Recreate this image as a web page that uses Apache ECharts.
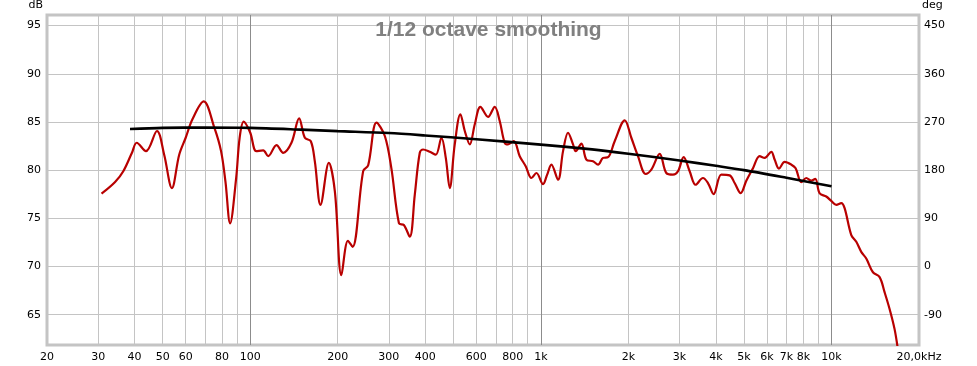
<!DOCTYPE html>
<html>
<head>
<meta charset="utf-8">
<script src="https://cdn.jsdelivr.net/npm/echarts@6/dist/echarts.min.js"></script>
<style>
html,body{margin:0;padding:0;background:#fff;}
#chart{width:977px;height:366px;}
</style>
</head>
<body>
<div id="chart"></div>
<script>
// ---- data ----
const titleText = '1/12 octave smoothing';

// measured response (red)
const redFreq = [30.8,34.3,36.6,39.2,40.7,43.8,47.8,50.6,53.8,57,60,63.3,69.2,75.3,79.4,82.2,85.3,89.5,92,95,
  100,105,110.9,115.3,123.2,129.9,138.7,147.4,154.2,161.7,166.9,174.6,186.5,195.6,206,217,225,244.8,254.7,272,290.6,306,325,337.8,354,
  368.4,383.3,393.5,414.8,435,455,471,486,505.6,528.8,547.5,569.6,592.6,619.6,658.4,694,722,751,771,806.8,846,887,928,965.6,1017.5,1050.6,1087,1146,1192.5,1240.6,1290.6,
  1318,1379,1434,1512,1573,1637,1703,1795,1944,2048,2159,2295,2400,2564,2702,2849,2964,3100,3251,3409,3612,3758,3931,4178,4462,
  4643,4870,5092,5369,5659,5889,6208,6373,6595,6901,7273,7527,7873,8191,8521,8795,9102,9594,9982,10385,10805,11094,11697,12170,12657,13170,13886,14640,15227,15843,16482,16900];
const redDb = [77.55,78.76,79.88,81.8,82.84,81.97,84.06,81.6,78.14,81.6,83.36,85.28,87.13,84.4,81.97,78.83,74.48,79.18,83.36,85.03,
  83.9,81.97,82.04,81.45,82.6,81.8,82.84,85.38,83.36,83.0,80.9,76.4,80.75,77.8,69.1,72.67,72.04,79.9,80.5,84.93,83.54,80.2,74.48,74.3,73.1,
  77.44,81.8,82.14,81.9,81.6,83.36,81.27,78.14,82.67,85.8,84.06,82.67,84.76,86.57,85.52,86.57,85.1,82.84,82.67,83.0,81.45,80.4,79.18,79.7,78.55,79.5,80.57,79.0,81.97,83.88,82.67,
  81.97,82.74,81.1,80.92,80.57,81.27,81.34,83.0,85.17,83.36,81.45,79.6,80.05,81.69,79.7,79.53,79.88,81.34,79.88,78.48,79.18,78.66,77.51,79.53,79.46,
  78.66,77.61,78.9,80.2,81.45,81.27,81.9,81.1,80.16,80.85,80.57,80.2,78.76,79.18,78.9,79.1,77.6,77.26,76.8,76.4,76.57,76.05,73.26,72.56,71.52,70.82,69.4,68.9,67.33,65.59,63.5,61.5];

// smoothed target (black)
const blackFreq = [38.6,50,70,100,150,200,300,400,600,1000,1500,2000,3000,4000,5000,7000,10000];
const blackDb = [84.27,84.38,84.42,84.38,84.2,84.05,83.85,83.6,83.2,82.65,82.15,81.7,81.0,80.45,80.0,79.2,78.32];

// axes
const freqMin = 20, freqMax = 20000;
const freqGrid = [30,40,50,60,70,80,90,200,300,400,500,600,700,800,900,2000,3000,4000,5000,6000,7000,8000,9000,20000];
const freqDecades = [100,1000,10000];
const freqLabels = [20,30,40,50,60,80,100,200,300,400,600,800,1000,2000,3000,4000,5000,6000,7000,8000,10000,20000];
const dbMin = 61.85, dbMax = 96.1;
const dbTicks = [65,70,75,80,85,90,95];
const degMin = -146.7, degMax = 469.8;
const degTicks = [-90,0,90,180,270,360,450];

// ---- chart ----
const pair = (xs, ys) => xs.map((x, i) => [x, ys[i]]);
const labelFont = {color:'#000', fontFamily:'DejaVu Sans', fontSize:11};

const chart = echarts.init(document.getElementById('chart'), null, {renderer:'canvas'});
chart.setOption({
  animation:false,
  backgroundColor:'#fff',
  title:{text:titleText, left:'center', top:15,
    textStyle:{color:'#808080', fontFamily:'Liberation Sans', fontWeight:'bold', fontSize:21}},
  grid:{left:47, right:58, top:15, bottom:21, show:true, borderColor:'#c4c4c4', borderWidth:3, backgroundColor:'transparent'},
  xAxis:[{
    type:'log', logBase:10, min:freqMin, max:freqMax, position:'bottom',
    axisLine:{show:false},
    axisTick:{show:false, customValues:freqGrid},
    splitLine:{show:true, lineStyle:{color:'#c4c4c4', width:1}},
    axisLabel:{customValues:freqLabels, margin:7, ...labelFont,
      formatter:v => v === 20000 ? '20,0kHz' : (v >= 1000 ? (v/1000)+'k' : String(v))}
  },{
    type:'log', logBase:10, min:freqMin, max:freqMax, position:'top',
    axisLine:{show:false},
    axisTick:{show:false, customValues:freqDecades},
    axisLabel:{show:false},
    splitLine:{show:true, lineStyle:{color:'#8c8c8c', width:1}}
  }],
  yAxis:[{
    type:'value', min:dbMin, max:dbMax, position:'left',
    name:'dB', nameLocation:'end', nameGap:4,
    nameTextStyle:{...labelFont, align:'right', verticalAlign:'bottom', padding:[0,4,0,0]},
    axisLine:{show:false},
    axisTick:{show:false, customValues:dbTicks},
    splitLine:{show:true, lineStyle:{color:'#c4c4c4', width:1}},
    axisLabel:{customValues:dbTicks, margin:6, ...labelFont}
  },{
    type:'value', min:degMin, max:degMax, position:'right',
    name:'deg', nameLocation:'end', nameGap:4,
    nameTextStyle:{...labelFont, align:'left', verticalAlign:'bottom', padding:[0,0,0,3]},
    axisLine:{show:false},
    axisTick:{show:false, customValues:degTicks},
    splitLine:{show:false},
    axisLabel:{customValues:degTicks, margin:5, ...labelFont}
  }],
  series:[{
    type:'line', xAxisIndex:0, yAxisIndex:0, data:pair(redFreq, redDb),
    showSymbol:false, smooth:0.35, clip:true,
    lineStyle:{color:'#b80000', width:2.2}, z:3
  },{
    type:'line', xAxisIndex:0, yAxisIndex:0, data:pair(blackFreq, blackDb),
    showSymbol:false, smooth:0.3,
    lineStyle:{color:'#000', width:2.6}, z:4
  }]
});
</script>
</body>
</html>
